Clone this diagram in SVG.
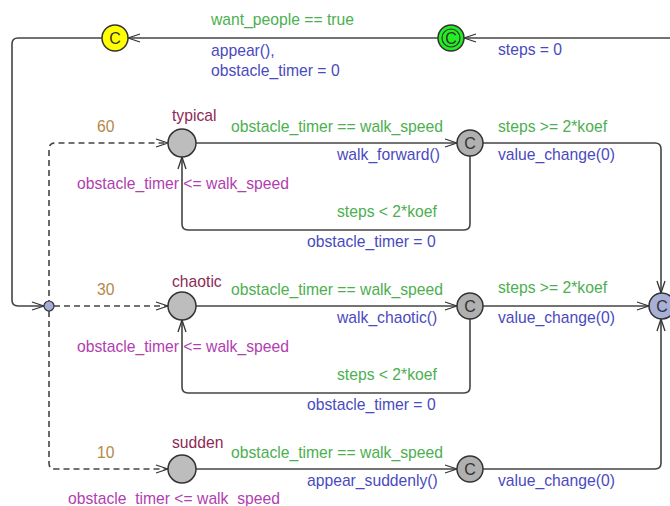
<svg xmlns="http://www.w3.org/2000/svg" width="670" height="506" viewBox="0 0 670 506">
<defs>
<marker id="arr" markerWidth="14" markerHeight="10" refX="13" refY="5" orient="auto" markerUnits="userSpaceOnUse">
<path d="M1,1 L13,5 L1,9" fill="none" stroke="#333" stroke-width="1.3"/>
</marker>
</defs>
<style>
text{font-family:"Liberation Sans",Arial,sans-serif;font-size:15.7px}
.g{fill:#4caf50}
.b{fill:#4a4ac0}
.m{fill:#b040b0}
.n{fill:#8e2a55}
.p{fill:#b5874a}
.e{fill:none;stroke:#444;stroke-width:1.6}
.d{fill:none;stroke:#444;stroke-width:1.6;stroke-dasharray:6 4}
.loc{fill:#bdbdbd;stroke:#333;stroke-width:1.5}
.com{fill:#b0b0b0;stroke:#333;stroke-width:1.5}
.c{font-size:16px;fill:#333;text-anchor:middle}
</style>
<rect width="670" height="506" fill="#fff"/>
<g id="connectors">
<path class="e" d="M670,38 L464,38" marker-end="url(#arr)"/>
<path class="e" d="M438,38 L128,38" marker-end="url(#arr)"/>
<path class="e" d="M102,38 L18,38 Q12,38 12,44 L12,300 Q12,306 18,306 L44,306" marker-end="url(#arr)"/>
<path class="d" d="M49,306 L49,149 Q49,143 55,143 L168,143" marker-end="url(#arr)"/>
<path class="d" d="M54,306 L168,306" marker-end="url(#arr)"/>
<path class="d" d="M49,311 L49,463 Q49,469 55,469 L168,469" marker-end="url(#arr)"/>
<path class="e" d="M196,143 L457,143" marker-end="url(#arr)"/>
<path class="e" d="M470,156 L470,224 Q470,230 464,230 L188,230 Q182,230 182,224 L182,157" marker-end="url(#arr)"/>
<path class="e" d="M483,143 L655,143 Q661,143 661,149 L661,293" marker-end="url(#arr)"/>
<path class="e" d="M196,306 L457,306" marker-end="url(#arr)"/>
<path class="e" d="M470,319 L470,387 Q470,393 464,393 L188,393 Q182,393 182,387 L182,320" marker-end="url(#arr)"/>
<path class="e" d="M483,306 L649,306" marker-end="url(#arr)"/>
<path class="e" d="M196,469 L457,469" marker-end="url(#arr)"/>
<path class="e" d="M483,469 L655,469 Q661,469 661,463 L661,319" marker-end="url(#arr)"/>
</g>
<g id="n_yellow"><circle cx="115" cy="38" r="13" fill="#ffff00" stroke="#333" stroke-width="1.5"/><text class="c" x="115" y="44">C</text></g>
<g id="n_green"><circle cx="451" cy="38" r="13" fill="#22ee22" stroke="#333" stroke-width="1.5"/><circle cx="451" cy="38" r="9" fill="none" stroke="#333" stroke-width="1.2"/><text class="c" x="451" y="44">C</text></g>
<g id="n_branch"><circle cx="49" cy="306" r="5" fill="#a4acd8" stroke="#333" stroke-width="1.2"/></g>
<g id="n_typical"><circle class="loc" cx="182" cy="143" r="14"/><text class="n" x="172" y="121">typical</text><text class="m" x="77" y="189">obstacle_timer &lt;= walk_speed</text></g>
<g id="n_chaotic"><circle class="loc" cx="182" cy="306" r="14"/><text class="n" x="172" y="287">chaotic</text><text class="m" x="77" y="352">obstacle_timer &lt;= walk_speed</text></g>
<g id="n_sudden"><circle class="loc" cx="182" cy="469" r="14"/><text class="n" x="172" y="448">sudden</text><text class="m" x="68" y="504">obstacle_timer &lt;= walk_speed</text></g>
<g id="n_c1"><circle class="com" cx="470" cy="143" r="13"/><text class="c" x="470" y="149">C</text></g>
<g id="n_c2"><circle class="com" cx="470" cy="306" r="13"/><text class="c" x="470" y="312">C</text></g>
<g id="n_c3"><circle class="com" cx="470" cy="469" r="13"/><text class="c" x="470" y="475">C</text></g>
<g id="n_final"><circle cx="662" cy="306" r="13" fill="#a8b0d8" stroke="#333" stroke-width="1.5"/><text class="c" x="662" y="312">C</text></g>
<g id="labels">
<text class="g" x="211" y="25">want_people == true</text>
<text class="b" x="211" y="56">appear(),</text>
<text class="b" x="211" y="76">obstacle_timer = 0</text>
<text class="b" x="498" y="55">steps = 0</text>
<text class="p" x="97" y="132">60</text>
<text class="p" x="97" y="295">30</text>
<text class="p" x="97" y="458">10</text>
<text class="g" x="231" y="132">obstacle_timer == walk_speed</text>
<text class="b" x="337" y="160">walk_forward()</text>
<text class="g" x="498" y="132">steps &gt;= 2*koef</text>
<text class="b" x="498" y="160">value_change(0)</text>
<text class="g" x="337" y="217">steps &lt; 2*koef</text>
<text class="b" x="307" y="247">obstacle_timer = 0</text>
<text class="g" x="231" y="295">obstacle_timer == walk_speed</text>
<text class="b" x="337" y="323">walk_chaotic()</text>
<text class="g" x="498" y="293">steps &gt;= 2*koef</text>
<text class="b" x="498" y="323">value_change(0)</text>
<text class="g" x="337" y="380">steps &lt; 2*koef</text>
<text class="b" x="307" y="410">obstacle_timer = 0</text>
<text class="g" x="231" y="458">obstacle_timer == walk_speed</text>
<text class="b" x="307" y="486">appear_suddenly()</text>
<text class="b" x="498" y="486">value_change(0)</text>
</g>
</svg>
